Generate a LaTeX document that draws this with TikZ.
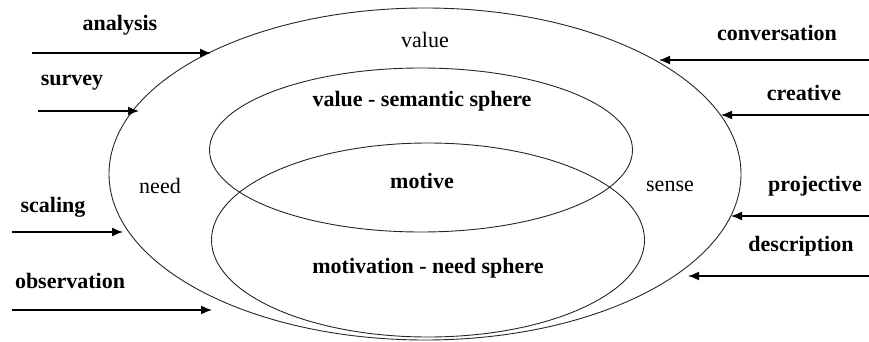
\documentclass[tikz,border=0pt]{standalone}
\usepackage{fontspec}
\setmainfont{Liberation Serif}
\usetikzlibrary{shapes.geometric,arrows.meta}
\begin{document}
\begin{tikzpicture}[x=1pt,y=-1pt,
  oval/.style={draw=black!85,line width=0.9pt,ellipse,inner sep=0pt},
  lbl/.style={font=\fontsize{22}{26}\selectfont\bfseries,inner sep=0pt},
  plain/.style={font=\fontsize{22}{26}\selectfont,inner sep=0pt},
  inarrow/.style={line width=1.5pt,-{Latex[length=11pt,width=9pt]}}]
\useasboundingbox (0,0) rectangle (869,342);
\node[oval,minimum width=632pt,minimum height=332pt] (outer) at (425,174) {};
\node[oval,minimum width=423pt,minimum height=164pt] (upper) at (421,150) {};
\node[oval,minimum width=433pt,minimum height=194pt] (lower) at (428,240) {};
% texts
\node[plain] (tvalue) at (425,40) {value};
\node[lbl] (tvs) at (422,101) {value - semantic sphere};
\node[lbl] (tmotive) at (422,181) {motive};
\node[lbl] (tmn) at (428,268) {motivation - need sphere};
\node[plain] (tneed) at (160,186) {need};
\node[plain] (tsense) at (670,186) {sense};
% left labels
\node[lbl] (lanalysis) at (120,25) {analysis};
\node[lbl] (lsurvey) at (72,83) {survey};
\node[lbl] (lscaling) at (53,207) {scaling};
\node[lbl] (lobs) at (70,281) {observation};
% right labels
\node[lbl] (lconv) at (777,33) {conversation};
\node[lbl] (lcreat) at (804,93) {creative};
\node[lbl] (lproj) at (815,186) {projective};
\node[lbl] (ldesc) at (801,246) {description};
% arrow coordinates
\coordinate (a1) at (32,53);  \coordinate (b1) at (211,53);
\coordinate (a2) at (38,111); \coordinate (b2) at (139,111);
\coordinate (a3) at (12,232); \coordinate (b3) at (123,232);
\coordinate (a4) at (12,310); \coordinate (b4) at (212,310);
\coordinate (a5) at (869,60);  \coordinate (b5) at (659,60);
\coordinate (a6) at (869,115); \coordinate (b6) at (721,115);
\coordinate (a7) at (869,216); \coordinate (b7) at (731,216);
\coordinate (a8) at (869,276); \coordinate (b8) at (688,276);
\foreach \i in {1,...,8} {\draw[inarrow] (a\i) -- (b\i);}
\end{tikzpicture}
\end{document}
